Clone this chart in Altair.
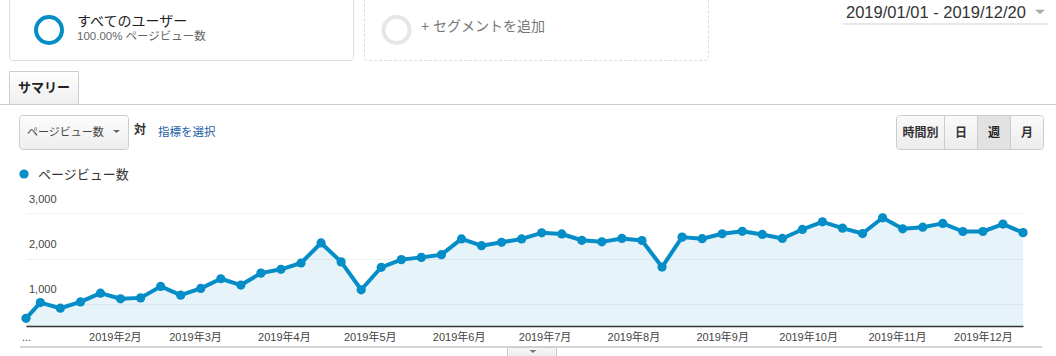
import altair as alt
import pandas as pd

# ---------------- data ----------------
week_start = [
    "2019-01-01", "2019-01-06", "2019-01-13", "2019-01-20", "2019-01-27",
    "2019-02-03", "2019-02-10", "2019-02-17", "2019-02-24",
    "2019-03-03", "2019-03-10", "2019-03-17", "2019-03-24", "2019-03-31",
    "2019-04-07", "2019-04-14", "2019-04-21", "2019-04-28",
    "2019-05-05", "2019-05-12", "2019-05-19", "2019-05-26",
    "2019-06-02", "2019-06-09", "2019-06-16", "2019-06-23", "2019-06-30",
    "2019-07-07", "2019-07-14", "2019-07-21", "2019-07-28",
    "2019-08-04", "2019-08-11", "2019-08-18", "2019-08-25",
    "2019-09-01", "2019-09-08", "2019-09-15", "2019-09-22", "2019-09-29",
    "2019-10-06", "2019-10-13", "2019-10-20", "2019-10-27",
    "2019-11-03", "2019-11-10", "2019-11-17", "2019-11-24",
    "2019-12-01", "2019-12-08", "2019-12-15",
]
pageviews = [
    170, 520, 395, 535, 730, 605, 625, 880, 685, 835,
    1050, 910, 1175, 1260, 1400, 1845, 1425, 805, 1305, 1475,
    1525, 1585, 1935, 1785, 1860, 1935, 2070, 2045, 1905, 1870,
    1945, 1900, 1310, 1975, 1940, 2050, 2105, 2035, 1945, 2145,
    2315, 2175, 2055, 2405, 2160, 2195, 2280, 2100, 2100, 2265,
    2075,
]
grid_values = [500, 1000, 1500, 2000, 2500, 3000]
label_values = [1000, 2000, 3000]
label_texts = ["1,000", "2,000", "3,000"]
month_ticks = list(range(1, 13))

metric_name = "ページビュー数"
segment_name = "すべてのユーザー"
segment_sub = "100.00% ページビュー数"
add_segment = "+ セグメントを追加"
date_range = "2019/01/01 - 2019/12/20"
tab_name = "サマリー"
vs_text = "対"
pick_metric = "指標を選択"
buttons = ["時間別", "日", "週", "月"]

df = pd.DataFrame({"date": week_start, "pv": pageviews})
ylab = pd.DataFrame({"v": label_values, "t": label_texts})
one = pd.DataFrame({"a": [0]})

BLUE = "#058dc7"
FONT = "Arial, 'Liberation Sans', 'Noto Sans CJK JP', sans-serif"
OX, OY = 26, 191
W, H = 997, 135


def X(v):
    return alt.value(v - OX)


def Y(v):
    return alt.value(v - OY)


def grad(c1, c2):
    return alt.LinearGradient(
        gradient="linear",
        stops=[alt.GradientStop(color=c1, offset=0), alt.GradientStop(color=c2, offset=1)],
        x1=0, x2=0, y1=0, y2=1,
    )


def rect(x1, x2, y1, y2, **mk):
    return alt.Chart(one).mark_rect(**mk).encode(x=X(x1), x2=X(x2), y=Y(y1), y2=Y(y2))


def hrule(x1, x2, y, **mk):
    return alt.Chart(one).mark_rule(**mk).encode(x=X(x1), x2=X(x2), y=Y(y))


def vrule(x, y1, y2, **mk):
    return alt.Chart(one).mark_rule(**mk).encode(x=X(x), y=Y(y1), y2=Y(y2))


def text(s, x, y, **mk):
    opts = dict(font=FONT, baseline="middle", align="left")
    opts.update(mk)
    return alt.Chart(one).mark_text(text=s, **opts).encode(x=X(x), y=Y(y))


def sym(x, y, **mk):
    return alt.Chart(one).mark_point(**mk).encode(x=X(x), y=Y(y))


TRI = "M-1,-0.45L1,-0.45L0,0.45Z"

decor = [
    # segment boxes
    rect(9.5, 353.5, -5, 60.5, fill="#ffffff", stroke="#dddddd", strokeWidth=1, cornerRadius=3),
    rect(364.5, 708.5, -5, 60.5, fill="#ffffff", stroke="#dddddd", strokeWidth=1,
         strokeDash=[3, 2], cornerRadius=3),
    sym(49, 30, shape="circle", size=676, filled=False, stroke=BLUE, strokeWidth=4, opacity=1),
    sym(396.5, 30, shape="circle", size=676, filled=False, stroke="#e6e6e6", strokeWidth=4, opacity=1),
    text(segment_name, 77, 22, fontSize=14, color="#222222"),
    text(segment_sub, 77, 37, fontSize=11.5, color="#666666"),
    text(add_segment, 421, 26.5, fontSize=14, color="#777777"),
    # date range
    text(date_range, 846, 12.5, fontSize=16.5, color="#333333"),
    sym(1040, 12, shape=TRI, size=100, filled=True, fill="#aaaaaa", strokeWidth=0, opacity=1),
    rect(843, 1048, 23, 25, fill="#e8e8e8"),
    # tab row
    hrule(0, 1056, 104.5, color="#cccccc", strokeWidth=1),
    rect(9.5, 78.5, 71.5, 104.5, fill=grad("#ffffff", "#efefef"), stroke="#cccccc", strokeWidth=1),
    text(tab_name, 44, 88, fontSize=13, fontWeight="bold", color="#222222", align="center"),
    # metric selector
    rect(19.5, 128.5, 115.5, 149.5, fill=grad("#fdfdfd", "#ededed"), stroke="#cccccc",
         strokeWidth=1, cornerRadius=3),
    text(metric_name, 27, 133, fontSize=11, color="#444444"),
    sym(116.5, 131.5, shape=TRI, size=49, filled=True, fill="#666666", strokeWidth=0, opacity=1),
    text(vs_text, 134, 129.5, fontSize=12, fontWeight="bold", color="#333333"),
    text(pick_metric, 158, 132.5, fontSize=11.5, color="#2461a8"),
    # time buttons
    rect(896.5, 1043.5, 115.5, 149.5, fill=grad("#fafafa", "#ececec"), stroke="#cccccc",
         strokeWidth=1, cornerRadius=3),
    rect(978, 1010.5, 116, 149, fill="#e2e2e2"),
    vrule(944.5, 116, 149, color="#cccccc", strokeWidth=1),
    vrule(977.5, 116, 149, color="#cccccc", strokeWidth=1),
    vrule(1010.5, 116, 149, color="#cccccc", strokeWidth=1),
    text(buttons[0], 920.5, 132.5, fontSize=12, fontWeight="bold", color="#333333", align="center"),
    text(buttons[1], 961, 132.5, fontSize=12, fontWeight="bold", color="#333333", align="center"),
    text(buttons[2], 994, 132.5, fontSize=12, fontWeight="bold", color="#222222", align="center"),
    text(buttons[3], 1027, 132.5, fontSize=12, fontWeight="bold", color="#333333", align="center"),
    # legend
    sym(24, 174, shape="circle", size=85, filled=True, fill=BLUE, strokeWidth=0, opacity=1),
    text(metric_name, 38, 175, fontSize=13, color="#333333"),
    # bottom bar
    hrule(20, 1042, 347, color="#d4d4d4", strokeWidth=2),
    rect(507.5, 556.5, 347.5, 360, fill=grad("#f7f7f7", "#e8e8e8"), stroke="#cccccc", strokeWidth=1),
    sym(533, 351.5, shape=TRI, size=49, filled=True, fill="#777777", strokeWidth=0, opacity=1),
]

x_enc = alt.X(
    "date:T",
    scale=alt.Scale(
        type="utc",
        domain=[alt.DateTime(year=2019, month=1, date=1, utc=True),
                alt.DateTime(year=2019, month=12, date=15, utc=True)],
        nice=False,
    ),
    axis=alt.Axis(
        title=None,
        values=[alt.DateTime(year=2019, month=m, date=1, utc=True) for m in month_ticks],
        labelExpr="utcmonth(datum.value) == 0 ? '...' : '2019年' + (utcmonth(datum.value) + 1) + '月'",
        ticks=False,
        grid=False,
        domain=True,
        domainColor="#333333",
        domainWidth=1.5,
        labelPadding=5,
        labelFontSize=11,
        labelColor="#444444",
        labelFont=FONT,
        labelOverlap=False,
        labelFlush=False,
    ),
)
y_enc = alt.Y(
    "pv:Q",
    scale=alt.Scale(domain=[0, 3000], nice=False),
    axis=alt.Axis(
        title=None,
        values=grid_values,
        labels=False,
        ticks=False,
        domain=False,
        grid=True,
        gridColor={"condition": {"test": "datum.value % 1000 === 0", "value": "#e3e3e3"},
                   "value": "#f1f1f1"},
        gridWidth=1,
    ),
)

base = alt.Chart(df).encode(x=x_enc, y=y_enc)
area = base.mark_area(color=BLUE, fillOpacity=0.1, line=False)
line = base.mark_line(color=BLUE, strokeWidth=4, strokeJoin="round")
points = base.mark_point(shape="circle", filled=True, size=85, color=BLUE, opacity=1)

ylabels = alt.Chart(ylab).mark_text(
    font=FONT, fontSize=11, color="#444444", align="left", baseline="middle", dy=8.5
).encode(x=alt.value(3), y=alt.Y("v:Q"), text="t:N")

chart = alt.layer(*decor, area, line, points, ylabels).properties(
    width=W,
    height=H,
    padding={"left": OX, "top": OY, "right": 1056 - OX - W, "bottom": 356 - OY - H},
    autosize=alt.AutoSizeParams(type="none"),
    background="#ffffff",
).configure_view(stroke=None)

chart.save("out.html", embed_options={"renderer": "svg", "actions": False})
